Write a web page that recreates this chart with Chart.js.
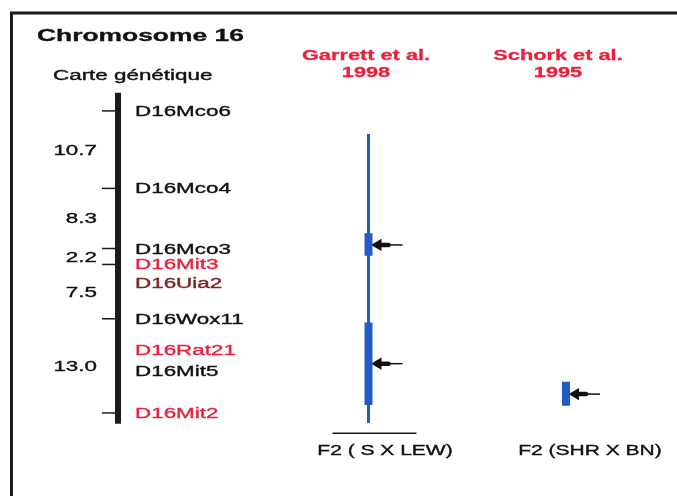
<!DOCTYPE html>
<html lang="fr">
<head>
<meta charset="UTF-8">
<title>Chromosome 16</title>
<script src="https://cdn.jsdelivr.net/npm/chart.js"></script>
<style>
  html, body { margin: 0; padding: 0; background: #fff; }
  #wrap { width: 677px; height: 496px; position: relative; }
</style>
</head>
<body>
<div id="wrap"><canvas id="chromChart"></canvas></div>

<script>
// --- carte génétique (cM) ---
var anchorMarkers = ['D16Mco6', 'D16Mco4', 'D16Mco3', 'D16Mit3', 'D16Wox11', 'D16Mit2'];
var intervals = [10.7, 8.3, 2.2, 7.5, 13.0];
var otherMarkers = ['D16Uia2', 'D16Rat21', 'D16Mit5'];
var otherPos = [23.7, 33.0, 35.9];
var mapExtent = [-2.5, 43.2];

// --- études QTL ---
var studyAuthors = ['Garrett et al.', 'Schork et al.'];
var studyYears = ['1998', '1995'];
var crosses = ['F2 ( S X LEW)', 'F2 (SHR X BN)'];
var ciFrom = [3.2, null];
var ciTo = [43.1, null];
var qtlStudy = [0, 0, 1];
var qtlFrom = [16.9, 29.2, 37.4];
var qtlTo = [20.0, 40.6, 40.7];
var qtlPeak = [18.5, 34.9, 39.1];

// positions cumulées des marqueurs d'ancrage
var anchorPos = [0];
for (var i = 0; i < intervals.length; i++) {
    anchorPos.push(Math.round((anchorPos[i] + intervals[i]) * 10) / 10);
}

// mise en page
var W = 677, H = 496;
var PX_PER_CM = 7.243, ORIGIN = 110.9;
var MAP_X = 118;
var STUDY_X = [368.5, 566];
var BLUE = '#1f5cc4';
var RED = '#e8213f';
var FONT = '"Liberation Sans", Arial, sans-serif';
var labelColors = { 'D16Mit3': RED, 'D16Rat21': RED, 'D16Mit2': RED, 'D16Uia2': '#7a2424' };

function seg(x1, y1, x2, y2) { return [{ x: x1, y: y1 }, { x: x2, y: y2 }]; }

var datasets = [];

// chromosome
datasets.push({
    data: seg(MAP_X, mapExtent[0], MAP_X, mapExtent[1]),
    borderColor: '#1b1b1b', borderWidth: 6, borderCapStyle: 'butt', pointRadius: 0
});
// graduations
datasets.push({
    data: anchorPos.map(function (p) { return { x: MAP_X - 9.5, y: p }; }),
    showLine: false, pointStyle: 'line', pointRadius: 6.5,
    borderColor: '#1b1b1b', borderWidth: 1.5
});
// intervalles de confiance
for (var s = 0; s < studyAuthors.length; s++) {
    if (ciFrom[s] === null) continue;
    datasets.push({
        data: seg(STUDY_X[s], ciFrom[s], STUDY_X[s], ciTo[s]),
        borderColor: BLUE, borderWidth: 3, borderCapStyle: 'butt', pointRadius: 0
    });
}
// QTL + flèches
for (var q = 0; q < qtlFrom.length; q++) {
    var cx = STUDY_X[qtlStudy[q]];
    datasets.push({
        data: seg(cx, qtlFrom[q], cx, qtlTo[q]),
        borderColor: BLUE, borderWidth: 8, borderCapStyle: 'butt', pointRadius: 0
    });
    datasets.push({
        data: seg(cx + 10, qtlPeak[q], cx + 20, qtlPeak[q]),
        borderColor: '#111', borderWidth: 4.5, borderCapStyle: 'round', pointRadius: 0
    });
    datasets.push({
        data: seg(cx + 9.5, qtlPeak[q], cx + 34, qtlPeak[q]),
        borderColor: '#111', backgroundColor: '#111', borderWidth: 1.5,
        pointStyle: 'triangle', rotation: 270, pointRadius: [5.5, 0]
    });
}

// texte étiré horizontalement, légèrement épaissi
function drawText(ctx, str, x, y, size, weight, color, align, stretch) {
    ctx.save();
    ctx.font = weight + ' ' + size + 'px ' + FONT;
    ctx.fillStyle = color;
    ctx.strokeStyle = color;
    ctx.lineWidth = weight === 'bold' ? 0.3 : 0.35;
    ctx.textAlign = 'left';
    ctx.textBaseline = 'alphabetic';
    var w = ctx.measureText(str).width * stretch;
    var left = align === 'left' ? x : (align === 'right' ? x - w : x - w / 2);
    ctx.translate(left, y + size * 0.36);
    ctx.scale(stretch, 1);
    ctx.fillText(str, 0, 0);
    ctx.strokeText(str, 0, 0);
    ctx.restore();
}

var decorPlugin = {
    id: 'decor',
    afterDatasetsDraw: function (chart) {
        var ctx = chart.ctx;
        var xs = chart.scales.x, ys = chart.scales.y;

        // cadre
        ctx.save();
        ctx.strokeStyle = '#1b1b1b';
        ctx.lineWidth = 3;
        ctx.beginPath();
        ctx.moveTo(xs.getPixelForValue(11.5), ys.bottom);
        ctx.lineTo(xs.getPixelForValue(11.5), 13);
        ctx.lineTo(xs.right, 13);
        ctx.stroke();
        // ligne de base sous Garrett
        ctx.lineWidth = 1.5;
        ctx.beginPath();
        var by = ys.getPixelForValue(44.5);
        ctx.moveTo(xs.getPixelForValue(STUDY_X[0] - 36), by);
        ctx.lineTo(xs.getPixelForValue(STUDY_X[0] + 48), by);
        ctx.stroke();
        ctx.restore();

        drawText(ctx, 'Chromosome 16', 37, 35, 16, 'bold', '#111', 'left', 1.65);
        drawText(ctx, 'Carte génétique', 53, 75, 14, 'normal', '#111', 'left', 1.6);

        // marqueurs
        anchorMarkers.forEach(function (m, k) {
            drawText(ctx, m, 135, ys.getPixelForValue(anchorPos[k]), 14, 'normal',
                labelColors[m] || '#111', 'left', 1.6);
        });
        otherMarkers.forEach(function (m, k) {
            drawText(ctx, m, 135, ys.getPixelForValue(otherPos[k]), 14, 'normal',
                labelColors[m] || '#111', 'left', 1.6);
        });
        // distances
        intervals.forEach(function (d, k) {
            var mid = (anchorPos[k] + anchorPos[k + 1]) / 2;
            drawText(ctx, d.toFixed(1), 97, ys.getPixelForValue(mid), 14, 'normal', '#111', 'right', 1.6);
        });

        // études
        var headX = [366, 558], crossX = [385, 590];
        studyAuthors.forEach(function (a, k) {
            drawText(ctx, a, headX[k], 55, 15, 'bold', RED, 'center', 1.45);
            drawText(ctx, studyYears[k], headX[k], 72, 15, 'bold', RED, 'center', 1.45);
            drawText(ctx, crosses[k], crossX[k], 450, 14, 'normal', '#111', 'center', 1.5);
        });
    }
};

var ctx = document.getElementById('chromChart').getContext('2d');
new Chart(ctx, {
    type: 'scatter',
    data: { datasets: datasets.map(function (d) {
        if (d.showLine === undefined) d.showLine = true;
        return d;
    }) },
    options: {
        responsive: true,
        maintainAspectRatio: false,
        animation: false,
        events: [],
        layout: { padding: 0, autoPadding: false },
        plugins: { legend: { display: false }, tooltip: { enabled: false } },
        scales: {
            x: { type: 'linear', display: false, min: 0, max: W },
            y: { type: 'linear', display: false, reverse: true,
                 min: -ORIGIN / PX_PER_CM, max: (H - ORIGIN) / PX_PER_CM }
        }
    },
    plugins: [decorPlugin]
});
</script>
</body>
</html>
